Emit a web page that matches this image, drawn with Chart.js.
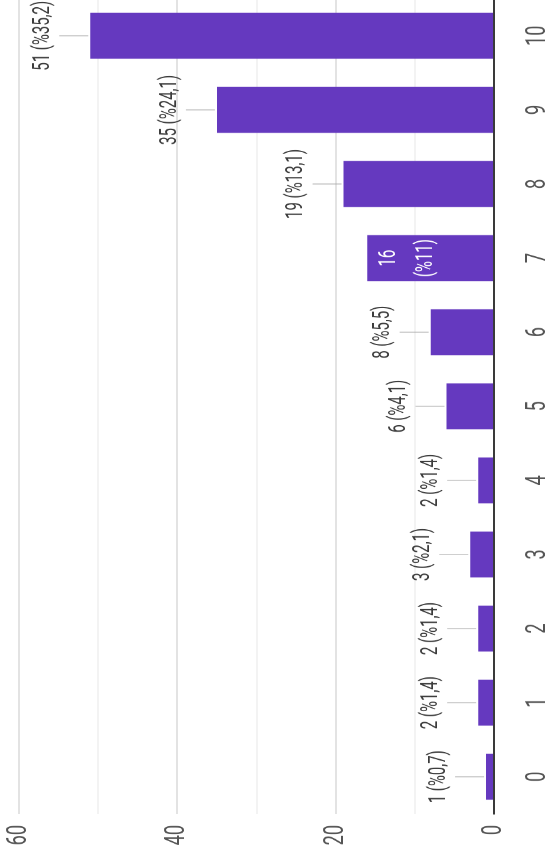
<!DOCTYPE html>
<html>
<head>
<meta charset="utf-8">
<script src="https://cdn.jsdelivr.net/npm/chart.js@4"></script>
<style>
  html, body { margin: 0; padding: 0; width: 548px; height: 854px; overflow: hidden; background: #fff; }
  #myChart {
    position: absolute; left: 0; top: 0;
    width: 1340px; height: 548px;
    transform-origin: 0 0;
    /* the picture is the chart turned a quarter left and squeezed */
    transform: translate(0, 860px) rotate(-90deg) scale(0.65, 1);
  }
</style>
</head>
<body>
<canvas id="myChart" width="1340" height="548"></canvas>
<script>
const scores = ["0", "1", "2", "3", "4", "5", "6", "7", "8", "9", "10"];
const counts = [1, 2, 2, 3, 2, 6, 8, 16, 19, 35, 51];
const percents = ["0,7", "1,4", "1,4", "2,1", "1,4", "4,1", "5,5", "11", "13,1", "24,1", "35,2"];
const insideLabel = [false, false, false, false, false, false, false, true, false, false, false];
const valueTicks = [0, 20, 40, 60];

const barLabels = {
  id: "barLabels",
  afterDatasetsDraw(chart) {
    const ctx = chart.ctx;
    const meta = chart.getDatasetMeta(0);
    ctx.save();
    ctx.font = "23px Roboto";
    ctx.textAlign = "center";
    ctx.textBaseline = "middle";
    meta.data.forEach((bar, i) => {
      if (insideLabel[i]) {
        ctx.fillStyle = "#ffffff";
        ctx.fillText(String(counts[i]), bar.x, bar.y + 22);
        ctx.fillText("(%" + percents[i] + ")", bar.x, bar.y + 59);
        return;
      }
      ctx.strokeStyle = "#a0a0a0";
      ctx.lineWidth = 1;
      ctx.beginPath();
      ctx.moveTo(bar.x, bar.y - 2);
      ctx.lineTo(bar.x, bar.y - 31);
      ctx.stroke();
      ctx.fillStyle = "#3c3c3c";
      ctx.fillText(counts[i] + " (%" + percents[i] + ")", bar.x, bar.y - 47);
    });
    ctx.restore();
  },
};

new Chart(document.querySelector("#myChart"), {
  type: "bar",
  data: {
    labels: scores,
    datasets: [
      {
        label: "",
        data: counts,
        backgroundColor: "#6539bf",
        categoryPercentage: 1,
        barPercentage: 0.62,
      },
    ],
  },
  options: {
    responsive: false,
    animation: false,
    devicePixelRatio: 1,
    layout: { padding: { top: 19, right: 15, left: 0, bottom: 0 } },
    plugins: {
      legend: { display: false },
      tooltip: { enabled: false },
    },
    scales: {
      x: {
        grid: { display: false },
        border: { display: true, color: "#3a3a3a", width: 2 },
        ticks: { color: "#555", padding: 19, font: { family: "Roboto", size: 28 } },
        afterFit: (scale) => {
          scale.height = 54;
          scale.paddingLeft = 0;
          scale.paddingRight = 0;
        },
      },
      y: {
        min: 0,
        max: 60,
        border: { display: false },
        grid: {
          drawTicks: false,
          lineWidth: 2,
          color: (c) => (valueTicks.includes(c.tick.value) ? "#e3e3e3" : "#f3f3f3"),
        },
        ticks: {
          stepSize: 10,
          padding: 17,
          color: "#555",
          font: { family: "Roboto", size: 28 },
          callback: (v) => (valueTicks.includes(v) ? v : ""),
        },
        afterFit: (scale) => {
          scale.width = 71;
          scale.paddingTop = 0;
          scale.paddingBottom = 0;
        },
      },
    },
  },
  plugins: [barLabels],
});
</script>
</body>
</html>
